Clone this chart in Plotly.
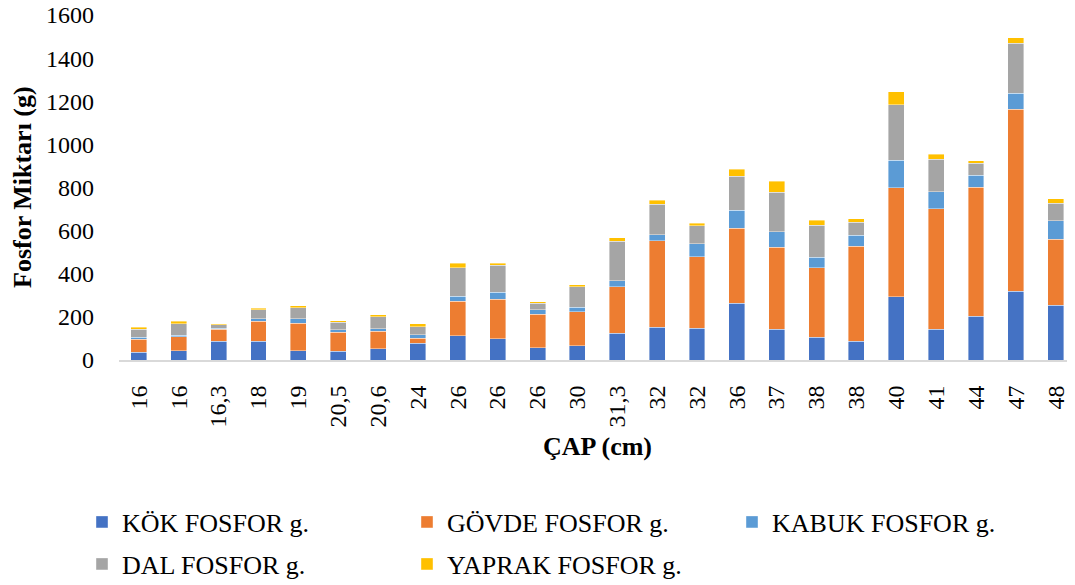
import plotly.graph_objects as go

# ---- data ----
cap_labels = ["16", "16", "16,3", "18", "19", "20,5", "20,6", "24", "26", "26", "26", "30",
              "31,3", "32", "32", "36", "37", "38", "38", "40", "41", "44", "47", "48"]
kok = [37, 43, 87, 87, 43, 40, 52, 77, 113, 99, 56, 65, 124, 152, 148, 263, 142, 105, 87, 294, 142, 203, 320, 254]
govde = [59, 65, 55, 92, 127, 88, 81, 24, 159, 182, 156, 158, 216, 400, 331, 348, 382, 323, 440, 505, 560, 599, 844, 307]
kabuk = [9, 6, 6, 13, 22, 13, 12, 15, 23, 33, 21, 21, 28, 29, 59, 83, 70, 48, 51, 127, 78, 54, 73, 85]
dal = [37, 54, 16, 41, 51, 34, 56, 39, 133, 125, 30, 96, 182, 141, 85, 158, 184, 148, 60, 258, 151, 56, 232, 81]
yaprak = [10, 11, 4, 8, 9, 6, 9, 13, 20, 9, 7, 8, 16, 19, 12, 32, 51, 25, 16, 60, 23, 11, 25, 21]
y_ticks = [0, 200, 400, 600, 800, 1000, 1200, 1400, 1600]

series = [
    ("KÖK FOSFOR g.", kok, "#4472C4"),
    ("GÖVDE FOSFOR g.", govde, "#ED7D31"),
    ("KABUK FOSFOR g.", kabuk, "#5B9BD5"),
    ("DAL FOSFOR g.", dal, "#A5A5A5"),
    ("YAPRAK FOSFOR g.", yaprak, "#FFC000"),
]

FONT = "Liberation Serif, Times New Roman, serif"
OFF = 8  # default page body margin
W, H = 1075 - OFF, 585 - OFF
# target page-pixel positions
PL, PT, PB = 119, 15, 360
L, T = PL - OFF, PT - OFF
R = 0
B = H - (PB - OFF)
pw, ph = W - L - R, H - T - B

# category spacing in the reference: first centre 138.7, step 39.86 px
step = 39.86
x0 = -0.5
x1 = x0 + pw / step

def px_x(p):
    return (p - OFF - L) / pw

def px_y(p):
    return ((PB - OFF) - (p - OFF)) / ph

x_idx = list(range(len(cap_labels)))

fig = go.Figure()
legend_names = ["legend", "legend2", "legend3", "legend4", "legend5"]
for (name, vals, col), lg in zip(series, legend_names):
    fig.add_trace(go.Bar(
        x=x_idx, y=vals, name=name, width=0.4,
        marker=dict(color=col, line=dict(color="rgba(255,255,255,0.5)", width=0.8)),
        legend=lg,
    ))

leg_pos = [(82, 522), (407, 522), (732, 522), (82, 564), (407, 564)]
layout_legends = {}
for lg, (lx, ly) in zip(legend_names, leg_pos):
    layout_legends[lg] = dict(
        x=px_x(lx), y=px_y(ly), xanchor="left", yanchor="middle",
        font=dict(family=FONT, size=26, color="black"),
        bgcolor="rgba(0,0,0,0)", borderwidth=0,
    )

fig.update_layout(
    width=W, height=H,
    margin=dict(l=L, r=R, t=T, b=B, pad=0, autoexpand=False),
    barmode="stack",
    plot_bgcolor="white", paper_bgcolor="white",
    font=dict(family=FONT, size=24, color="black"),
    showlegend=True,
    **layout_legends,
)
fig.update_xaxes(
    range=[x0, x1], automargin=False,
    tickmode="array", tickvals=x_idx, ticktext=cap_labels,
    tickangle=-90, tickfont=dict(family=FONT, size=24, color="black"),
    showline=True, linecolor="#D9D9D9", linewidth=2,
    showgrid=False, zeroline=False, ticks="", ticklabelstandoff=14,
    ticklabeloverflow="allow",
)
fig.update_yaxes(
    range=[0, 1600], automargin=False, tickmode="array", tickvals=y_ticks,
    tickfont=dict(family=FONT, size=24, color="black"),
    showline=False, showgrid=False, zeroline=False, ticks="", ticklabelstandoff=24,
    ticklabeloverflow="allow",
)
fig.add_annotation(text="<b>ÇAP (cm)</b>", xref="paper", yref="paper",
                   x=px_x(597), y=px_y(447), xanchor="center", yanchor="middle",
                   showarrow=False, font=dict(family=FONT, size=26, color="black"))
fig.add_annotation(text="<b>Fosfor Miktarı (g)</b>", xref="paper", yref="paper",
                   x=px_x(22), y=px_y(187), xanchor="center", yanchor="middle", textangle=-90,
                   showarrow=False, font=dict(family=FONT, size=26, color="black"))

fig.write_html("out.html")
